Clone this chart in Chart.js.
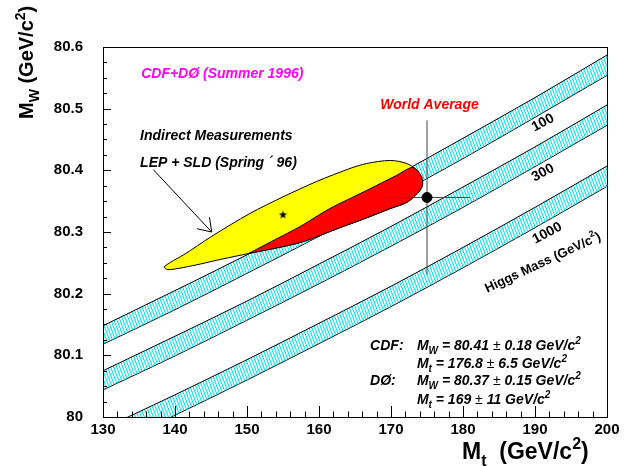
<!DOCTYPE html>
<html>
<head>
<meta charset="utf-8">
<script src="https://cdn.jsdelivr.net/npm/chart.js@4.4.1/dist/chart.umd.min.js"></script>
<style>
  html, body { margin: 0; padding: 0; background: #fff; }
  #wrap { width: 624px; height: 466px; }
</style>
</head>
<body>
<div id="wrap"><canvas id="chart" width="624" height="466"></canvas></div>
<script>
// top mass points where the Higgs bands are given (GeV/c^2)
const mtGrid = [130, 140, 150, 160, 170, 180, 190, 200];

// SM prediction bands (MW edges at each mtGrid point)
const higgs100Upper  = [80.148, 80.205, 80.263, 80.324, 80.387, 80.452, 80.518, 80.587];
const higgs100Lower  = [80.118, 80.174, 80.233, 80.293, 80.355, 80.419, 80.486, 80.554];
const higgs300Upper  = [80.075, 80.131, 80.188, 80.248, 80.309, 80.373, 80.438, 80.506];
const higgs300Lower  = [80.044, 80.099, 80.157, 80.216, 80.277, 80.340, 80.406, 80.473];
const higgs1000Upper = [79.981, 80.036, 80.093, 80.152, 80.212, 80.275, 80.340, 80.407];
const higgs1000Lower = [79.948, 80.003, 80.060, 80.119, 80.179, 80.242, 80.307, 80.374];

// LEP + SLD indirect contour (yellow)
const indirectMt = [150.2, 146.5, 143.5, 140.5, 139.0, 138.5, 139.4, 141.2, 145.1, 150.4, 155.0, 159.7, 164.3, 166.6, 169.9, 172.2, 173.7, 174.4, 174.0, 172.2, 169.9, 166.2, 162.9, 157.4, 150.2];
const indirectMw = [80.265, 80.256, 80.248, 80.241, 80.239, 80.243, 80.251, 80.263, 80.293, 80.330, 80.357, 80.382, 80.403, 80.411, 80.416, 80.411, 80.399, 80.378, 80.367, 80.348, 80.338, 80.321, 80.307, 80.283, 80.265];

// part of the contour combined with the world average (red)
const overlapMt = [150.2, 153.8, 157.4, 161.5, 166.2, 170.8, 172.9, 173.7, 174.3, 174.4, 174.0, 173.3, 172.2, 169.9, 166.2, 162.9, 157.4, 150.2];
const overlapMw = [80.265, 80.287, 80.309, 80.338, 80.365, 80.392, 80.405, 80.399, 80.389, 80.378, 80.367, 80.358, 80.348, 80.338, 80.321, 80.307, 80.283, 80.265];

// best fit of the indirect measurements
const bestFitMt = [155.0];
const bestFitMw = [80.328];

// world average point
const worldMt = [175.0];
const worldMtErr = [6.0];
const worldMw = [80.356];
const worldMwErr = [0.125];

const xTickLabels = ['130', '140', '150', '160', '170', '180', '190', '200'];
const yTickLabels = ['80', '80.1', '80.2', '80.3', '80.4', '80.5', '80.6'];

const FONT = '"Liberation Sans", Arial, Helvetica, sans-serif';

const canvas = document.getElementById('chart');
const mainCtx = canvas.getContext('2d');

// cyan hatch for the Higgs bands
const tile = document.createElement('canvas');
tile.width = 3;
tile.height = 8;
const tg = tile.getContext('2d');
tg.strokeStyle = '#00e2f4';
tg.lineWidth = 1.1;
for (const dx of [-3, 0, 3]) {
  tg.beginPath();
  tg.moveTo(dx - 3, -8);
  tg.lineTo(dx + 6, 16);
  tg.stroke();
}
const hatch = mainCtx.createPattern(tile, 'repeat');

// small filled star for the best fit
const star = document.createElement('canvas');
star.width = 9;
star.height = 9;
const sg = star.getContext('2d');
sg.fillStyle = '#000';
sg.beginPath();
for (let i = 0; i < 10; i++) {
  const r = i % 2 === 0 ? 4.3 : 1.8;
  const a = -Math.PI / 2 + i * Math.PI / 5;
  const px = 4.5 + r * Math.cos(a), py = 4.8 + r * Math.sin(a);
  if (i === 0) sg.moveTo(px, py); else sg.lineTo(px, py);
}
sg.closePath();
sg.fill();

const zip = (xs, ys) => xs.map((x, i) => ({ x, y: ys[i] }));

function bandEdge(values, fillNext) {
  return {
    data: zip(mtGrid, values),
    borderColor: '#000',
    borderWidth: 1,
    pointRadius: 0,
    backgroundColor: hatch,
    fill: fillNext ? '+1' : false,
    cubicInterpolationMode: 'monotone',
    order: 6
  };
}

function rich(ctx, parts, size, x, y, align) {
  const fontOf = p => {
    const s = p[1] === 'n' ? size : Math.round(size * 0.7);
    return (p[2] || 'bold') + ' ' + s + 'px ' + FONT;
  };
  let w = 0;
  for (const p of parts) { ctx.font = fontOf(p); w += ctx.measureText(p[0]).width; }
  let cx = align === 'center' ? x - w / 2 : x;
  for (const p of parts) {
    ctx.font = fontOf(p);
    const dy = p[1] === 'sub' ? size * 0.3 : p[1] === 'sup' ? -size * 0.42 : 0;
    ctx.fillText(p[0], cx, y + dy);
    cx += ctx.measureText(p[0]).width;
  }
}

const decor = {
  id: 'decor',
  afterDraw(chart) {
    const { ctx, chartArea: a, scales: { x, y } } = chart;
    ctx.save();
    ctx.strokeStyle = '#000';
    ctx.lineWidth = 1;

    // minor / major ticks inside the frame
    ctx.beginPath();
    for (let v = 80; v <= 80.6001; v += 0.025) {
      const py = Math.round(y.getPixelForValue(v)) + 0.5;
      const major = Math.abs(v * 10 - Math.round(v * 10)) < 1e-6;
      ctx.moveTo(a.left, py);
      ctx.lineTo(a.left + (major ? 8 : 4), py);
    }
    for (let v = 130; v <= 200; v += 2) {
      const px = Math.round(x.getPixelForValue(v)) + 0.5;
      ctx.moveTo(px, a.bottom);
      ctx.lineTo(px, a.bottom - (v % 10 === 0 ? 11 : 5.5));
    }
    ctx.stroke();
    ctx.strokeRect(Math.round(a.left) + 0.5, Math.round(a.top) + 0.5,
      Math.round(a.right - a.left), Math.round(a.bottom - a.top));

    // arrow from the label to the contour
    const x0 = x.getPixelForValue(137.0), y0 = y.getPixelForValue(80.401);
    const x1 = x.getPixelForValue(145.1), y1 = y.getPixelForValue(80.300);
    const ang = Math.atan2(y1 - y0, x1 - x0);
    ctx.beginPath();
    ctx.moveTo(x0, y0);
    ctx.lineTo(x1, y1);
    for (const s of [-0.6, 0.6]) {
      ctx.moveTo(x1, y1);
      ctx.lineTo(x1 - 15 * Math.cos(ang + s), y1 - 15 * Math.sin(ang + s));
    }
    ctx.stroke();

    ctx.textBaseline = 'alphabetic';
    ctx.textAlign = 'left';
    const bi = 'italic bold';

    ctx.fillStyle = '#ff00ff';
    rich(ctx, [['CDF+DØ (Summer 1996)', 'n', bi]], 14, x.getPixelForValue(135.3), y.getPixelForValue(80.550));
    ctx.fillStyle = '#ff0000';
    rich(ctx, [['World Average', 'n', bi]], 14, x.getPixelForValue(168.5), y.getPixelForValue(80.499));
    ctx.fillStyle = '#000';
    rich(ctx, [['Indirect Measurements', 'n', bi]], 14, x.getPixelForValue(135.15), y.getPixelForValue(80.449));
    rich(ctx, [['LEP + SLD (Spring ´ 96)', 'n', bi]], 14, x.getPixelForValue(135.15), y.getPixelForValue(80.405));

    // measurement summary
    const lx = x.getPixelForValue(167.1), vx = x.getPixelForValue(173.6);
    const rows = [80.109, 80.080, 80.052, 80.021].map(v => y.getPixelForValue(v));
    rich(ctx, [['CDF:', 'n', bi]], 14, lx, rows[0]);
    rich(ctx, [['DØ:', 'n', bi]], 14, lx, rows[2]);
    rich(ctx, [['M', 'n', bi], ['W', 'sub', bi], [' = 80.41 ', 'n', bi], ['±', 'n', 'normal'], [' 0.18 GeV/c', 'n', bi], ['2', 'sup', bi]], 14, vx, rows[0]);
    rich(ctx, [['M', 'n', bi], ['t', 'sub', bi], [' = 176.8 ', 'n', bi], ['±', 'n', 'normal'], [' 6.5 GeV/c', 'n', bi], ['2', 'sup', bi]], 14, vx, rows[1]);
    rich(ctx, [['M', 'n', bi], ['W', 'sub', bi], [' = 80.37 ', 'n', bi], ['±', 'n', 'normal'], [' 0.15 GeV/c', 'n', bi], ['2', 'sup', bi]], 14, vx, rows[2]);
    rich(ctx, [['M', 'n', bi], ['t', 'sub', bi], [' = 169 ', 'n', bi], ['±', 'n', 'normal'], [' 11 GeV/c', 'n', bi], ['2', 'sup', bi]], 14, vx, rows[3]);

    // band labels
    const rot = (mt, mw, deg, fn) => {
      ctx.save();
      ctx.translate(x.getPixelForValue(mt), y.getPixelForValue(mw));
      ctx.rotate(deg * Math.PI / 180);
      fn();
      ctx.restore();
    };
    ctx.textBaseline = 'middle';
    rot(191.1, 80.477, -28, () => rich(ctx, [['100', 'n']], 14, 0, 0, 'center'));
    rot(191.1, 80.396, -28, () => rich(ctx, [['300', 'n']], 14, 0, 0, 'center'));
    rot(191.7, 80.298, -28, () => rich(ctx, [['1000', 'n']], 14, 0, 0, 'center'));
    rot(191.1, 80.250, -25, () => rich(ctx, [['Higgs Mass (GeV/c', 'n'], ['2', 'sup'], [')', 'n']], 13, 0, 0, 'center'));

    // axis titles
    ctx.textBaseline = 'alphabetic';
    rich(ctx, [['M', 'n'], ['t', 'sub'], ['  (GeV/c', 'n'], ['2', 'sup'], [')', 'n']], 23, 462, 459);
    ctx.save();
    ctx.translate(33, 119);
    ctx.rotate(-Math.PI / 2);
    rich(ctx, [['M', 'n'], ['W', 'sub'], [' (GeV/c', 'n'], ['2', 'sup'], [')', 'n']], 20, 0, 0);
    ctx.restore();

    ctx.restore();
  }
};

new Chart(canvas, {
  type: 'line',
  data: {
    datasets: [
      {
        data: zip(worldMt, worldMw),
        showLine: false,
        pointRadius: 5,
        pointBackgroundColor: '#000',
        pointBorderColor: '#000',
        order: 0
      },
      {
        data: zip(bestFitMt, bestFitMw),
        showLine: false,
        pointStyle: star,
        order: 0
      },
      {
        data: [{ x: worldMt[0] - worldMtErr[0], y: worldMw[0] }, { x: worldMt[0] + worldMtErr[0], y: worldMw[0] }],
        borderColor: '#444',
        borderWidth: 1,
        pointRadius: 0,
        fill: false,
        order: 1
      },
      {
        data: [{ x: worldMt[0], y: worldMw[0] - worldMwErr[0] }, { x: worldMt[0], y: worldMw[0] + worldMwErr[0] }],
        borderColor: '#444',
        borderWidth: 1,
        pointRadius: 0,
        fill: false,
        order: 1
      },
      {
        data: zip(overlapMt, overlapMw),
        borderColor: '#000',
        borderWidth: 1,
        backgroundColor: '#ff0000',
        fill: 'shape',
        pointRadius: 0,
        tension: 0.25,
        order: 2
      },
      {
        data: zip(indirectMt, indirectMw),
        borderColor: '#000',
        borderWidth: 1,
        backgroundColor: '#ffff00',
        fill: 'shape',
        pointRadius: 0,
        tension: 0.3,
        order: 3
      },
      bandEdge(higgs100Upper, true),
      bandEdge(higgs100Lower, false),
      bandEdge(higgs300Upper, true),
      bandEdge(higgs300Lower, false),
      bandEdge(higgs1000Upper, true),
      bandEdge(higgs1000Lower, false)
    ]
  },
  options: {
    responsive: false,
    animation: false,
    devicePixelRatio: 1,
    layout: { padding: { top: 47, right: 17, left: 0, bottom: 0 } },
    plugins: { legend: { display: false }, tooltip: { enabled: false } },
    scales: {
      x: {
        type: 'linear',
        min: 130,
        max: 200,
        grid: { display: false, drawTicks: false },
        border: { display: false },
        ticks: {
          stepSize: 10,
          padding: 4,
          color: '#000',
          font: { family: FONT, size: 15, weight: 'bold' },
          callback: v => xTickLabels[Math.round((v - 130) / 10)]
        },
        afterFit: s => { s.height = 49; }
      },
      y: {
        min: 80,
        max: 80.6,
        grid: { display: false, drawTicks: false },
        border: { display: false },
        ticks: {
          stepSize: 0.1,
          padding: 20,
          color: '#000',
          font: { family: FONT, size: 15, weight: 'bold' },
          callback: v => yTickLabels[Math.round((v - 80) * 10)]
        },
        afterFit: s => { s.width = 103; }
      }
    }
  },
  plugins: [decor]
});
</script>
</body>
</html>
